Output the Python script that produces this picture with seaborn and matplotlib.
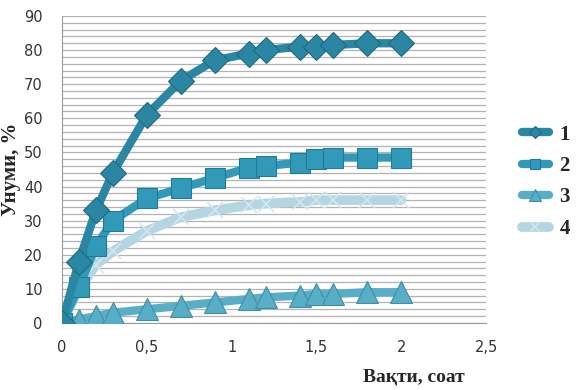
import numpy as np
import pandas as pd
import seaborn as sns
from matplotlib import pyplot as plt
from matplotlib.ticker import FuncFormatter

time = [0, 0.1, 0.2, 0.3, 0.5, 0.7, 0.9, 1.1, 1.2, 1.4, 1.5, 1.6, 1.8, 2.0]
s1 = [0, 18, 33, 44, 61, 71, 77, 79, 80, 81, 81, 81.5, 82, 82]
s2 = [0, 10.5, 22.5, 30, 36.5, 39.5, 42.5, 45.5, 46, 47, 48, 48.5, 48.5, 48.5]
s3 = [0, 1, 2, 3, 4, 5, 6, 7, 7.5, 8, 8.5, 8.5, 9, 9]
s4 = [0, 10, 17, 21, 27, 31, 33, 34.5, 35, 35.5, 36, 36, 36, 36]
names = ["1", "2", "3", "4"]

sns.set_style("white")
fig = plt.figure(figsize=(5.85, 3.9), dpi=100)
ax = fig.add_axes([0.106, 0.172, 0.725, 0.787])

# light series first so it sits behind
sns.lineplot(x=time, y=s4, ax=ax, color="#b4d6e2", lw=7, marker="x", ms=12,
             mew=1.2, mec="#d4e6ee", label=names[3], zorder=2)
sns.lineplot(x=time, y=s3, ax=ax, color="#58aec6", lw=6, marker="^", ms=16,
             mec="#3f8ea6", mew=0.8, label=names[2], zorder=3)
sns.lineplot(x=time, y=s2, ax=ax, color="#3399b8", lw=6, marker="s", ms=15,
             mec="#1f7c99", mew=0.8, label=names[1], zorder=4)
sns.lineplot(x=time, y=s1, ax=ax, color="#2a86a2", lw=6, marker="D", ms=13,
             mec="#1d6a82", mew=0.8, label=names[0], zorder=5)

ax.set_xlim(0, 2.5)
ax.set_ylim(0, 90)
ax.set_xticks(np.arange(0, 2.51, 0.5))
ax.set_yticks(np.arange(0, 91, 10))
ax.set_yticks(np.arange(0, 91, 2), minor=True)
ax.xaxis.set_major_formatter(FuncFormatter(lambda v, p: ("%g" % v).replace(".", ",")))
ax.grid(axis="y", which="both", color="#b3b3b3", lw=0.9)
ax.set_axisbelow(True)
for side in ["top", "right"]:
    ax.spines[side].set_visible(False)
for side in ["left", "bottom"]:
    ax.spines[side].set_color("#9a9a9a")
ax.tick_params(axis="x", direction="out", length=4, color="#9a9a9a",
               labelsize=10.5, labelcolor="#333333", pad=8)
ax.tick_params(axis="y", which="major", length=0, labelsize=10.5,
               labelcolor="#333333", pad=14)
ax.tick_params(axis="y", which="minor", length=0)

ax.set_ylabel("Унуми, %", fontsize=15, fontweight="bold", family="Liberation Serif", labelpad=2)
ax.set_xlabel("Вақти, соат", fontsize=14, fontweight="bold", family="Liberation Serif")
ax.xaxis.set_label_coords(0.83, -0.15)

handles, labels = ax.get_legend_handles_labels()
order = [3, 2, 1, 0]
ax.legend([handles[i] for i in order], [labels[i] for i in order],
          loc="center left", bbox_to_anchor=(1.04, 0.46), frameon=False,
          handlelength=1.3, handletextpad=0.5, markerscale=0.5, labelspacing=0.55,
          prop={"family": "Liberation Serif", "weight": "bold", "size": 15})

fig.savefig("out.png", dpi=100)
